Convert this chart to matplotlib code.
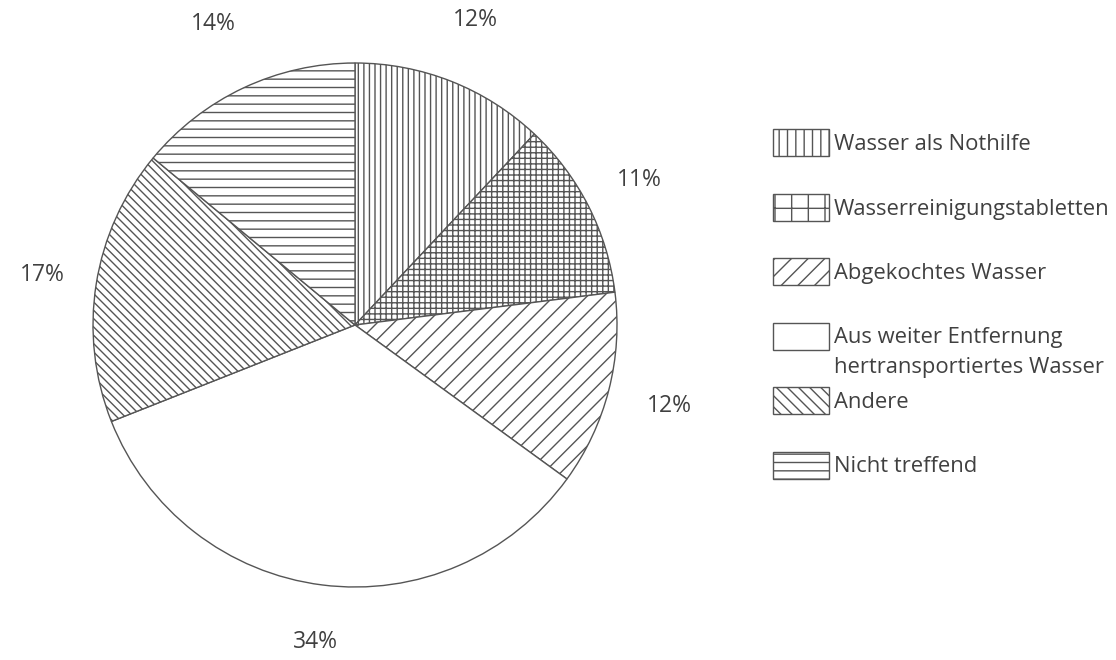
import matplotlib
matplotlib.use("Agg")
import matplotlib.pyplot as plt
from matplotlib.patches import Rectangle

plt.rcParams['font.family'] = ['Open Sans', 'DejaVu Sans']
plt.rcParams['hatch.linewidth'] = 1.0
plt.rcParams['hatch.color'] = '#555555'

categories = ["Wasser als Nothilfe", "Wasserreinigungstabletten", "Abgekochtes Wasser",
              "Aus weiter Entfernung\nhertransportiertes Wasser", "Andere", "Nicht treffend"]
values = [12, 11, 12, 34, 17, 14]
pct_labels = [str(v) + "%" for v in values]

pie_hatches = ['|||', '+++', '//', '', '\\\\\\\\', '--']
legend_hatches = ['||', '+', '//', '', '\\\\\\', '--']
label_dist = [1.25, 1.22, 1.24, 1.22, 1.21, 1.27]

W, H = 1116, 660
fig = plt.figure(figsize=(W / 100, H / 100), dpi=100)

# pie: centre (355, 325) px, radius 262 px
cx, cy, r = 355, 325, 262
ax = fig.add_axes([(cx - r) / W, (H - cy - r) / H, 2 * r / W, 2 * r / H])
wedges, texts = ax.pie(values, labels=pct_labels, startangle=90, counterclock=False,
                       colors=['white'] * len(values), hatch=pie_hatches,
                       labeldistance=1.0,
                       wedgeprops=dict(edgecolor='#555555', linewidth=1.0),
                       textprops=dict(fontsize=16.5, color='#404040'))
for t, d in zip(texts, label_dist):
    x, y = t.get_position()
    t.set_position((x * d, y * d))
    t.set_ha('center')
    t.set_va('center')
ax.set_xlim(-1, 1)
ax.set_ylim(-1, 1)
ax.set_aspect('equal')

# legend drawn by hand in pixel coords
lax = fig.add_axes([0, 0, 1, 1])
lax.set_xlim(0, W)
lax.set_ylim(H, 0)
lax.axis('off')
for i, (lab, hatch) in enumerate(zip(categories, legend_hatches)):
    top = 129 + i * 64.5
    lax.add_patch(Rectangle((773, top), 56, 27, facecolor='white', edgecolor='#555555',
                            linewidth=1.0, hatch=hatch))
    for k, line in enumerate(lab.split('\n')):
        lax.text(834, top + 21 + k * 30, line, fontsize=15.8, color='#404040',
                 ha='left', va='baseline')

fig.savefig("out.png", dpi=100)
